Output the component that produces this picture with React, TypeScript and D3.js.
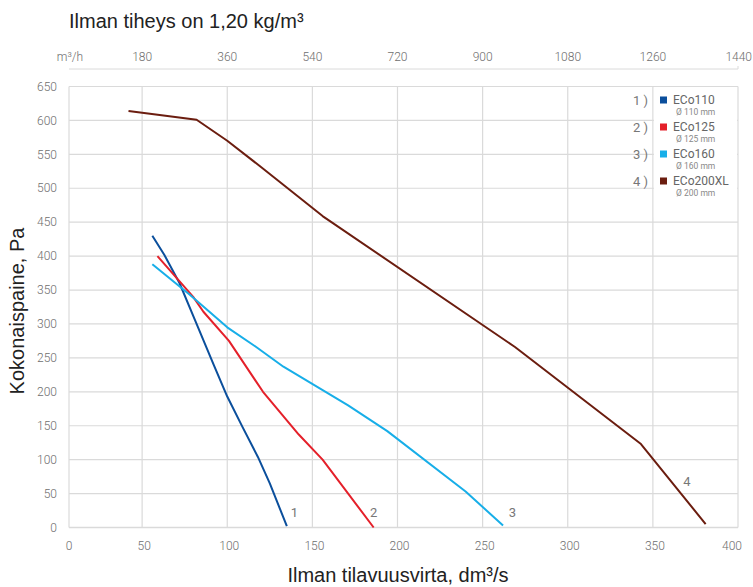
import React from "react";
import * as d3 from "d3";

const W = 753;
const H = 587;

const seriesNames = ["ECo110", "ECo125", "ECo160", "ECo200XL"];
const seriesDiameters = ["Ø 110 mm", "Ø 125 mm", "Ø 160 mm", "Ø 200 mm"];
const seriesNumbers = ["1 )", "2 )", "3 )", "4 )"];
const seriesColors = ["#0b4f9c", "#e4202a", "#17aee8", "#6b1d0f"];

const eco110Flow = [56, 63, 72, 81, 92, 100, 109, 118, 125, 135];
const eco110Pa = [430, 402, 360, 306, 240, 193, 148, 104, 65, 2];
const eco125Flow = [59, 80, 86, 101, 121, 142, 156, 186];
const eco125Pa = [400, 340, 318, 275, 200, 137, 100, 0];
const eco160Flow = [56, 78, 100, 117, 133, 171, 194, 240, 262];
const eco160Pa = [388, 343, 295, 266, 237, 180, 142, 53, 3];
const eco200Flow = [42, 82, 100, 120, 156, 269, 343, 381];
const eco200Pa = [614, 601, 570, 531, 459, 266, 123, 5];

const curveLabels = ["1", "2", "3", "4"];
const curveLabelFlow = [139.5, 186, 267.5, 370];
const curveLabelPa = [22, 22, 22, 68];

const xTicks = [0, 50, 100, 150, 200, 250, 300, 350, 400];
const yTicks = [0, 50, 100, 150, 200, 250, 300, 350, 400, 450, 500, 550, 600, 650];
const topTicks = [180, 360, 540, 720, 900, 1080, 1260, 1440];

const titleText = "Ilman tiheys on 1,20 kg/m³";
const topUnit = "m³/h";
const yTitle = "Kokonaispaine, Pa";
const xTitle = "Ilman tilavuusvirta, dm³/s";

const flows = [eco110Flow, eco125Flow, eco160Flow, eco200Flow];
const pressures = [eco110Pa, eco125Pa, eco160Pa, eco200Pa];

export default function App() {
  const plotLeft = 69;
  const x = d3.scaleLinear().domain([0, 400]).range([57, 738]);
  const xTop = d3.scaleLinear().domain([0, 1440]).range([57, 738]);
  const y = d3.scaleLinear().domain([0, 650]).range([527.5, 86.5]);
  const plotRight = x(400);
  const plotTop = y(650);
  const plotBottom = y(0);

  const line = d3
    .line<[number, number]>()
    .x((d) => x(d[0]))
    .y((d) => y(d[1]));

  const tickFont = "Roboto, 'DejaVu Sans', sans-serif";
  const titleFont = "'Liberation Sans', Arial, sans-serif";
  const tickColor = "#6e6e6e";
  const gridColor = "#dadada";

  return (
    <svg
      width={W}
      height={H}
      style={{ position: "absolute", left: 0, top: 0, background: "#fff" }}
    >
      <rect x={0} y={0} width={W} height={H} fill="#fff" />
      {/* title */}
      <text x={plotLeft} y={28} fontFamily={titleFont} fontSize={20} fill="#222">
        {titleText}
      </text>

      {/* top axis */}
      <line x1={plotLeft} x2={plotRight} y1={69} y2={69} stroke={gridColor} strokeWidth={1} />
      <line x1={plotRight} x2={plotRight} y1={66} y2={69} stroke={gridColor} strokeWidth={1} />
      <text x={plotLeft + 1} y={61} textAnchor="middle" fontFamily={tickFont} fontWeight={300} fontSize={12} fill={tickColor}>
        {topUnit}
      </text>
      {topTicks.map((t) => (
        <text
          key={t}
          x={t === 1440 ? W - 1 : xTop(t)}
          y={61}
          textAnchor={t === 1440 ? "end" : "middle"}
          fontFamily={tickFont}
          fontWeight={300}
          fontSize={12}
          fill={tickColor}
        >
          {t}
        </text>
      ))}

      {/* grid */}
      {yTicks.filter((t) => t > 0).map((t) => (
        <line key={"gy" + t} x1={plotLeft} x2={plotRight} y1={y(t)} y2={y(t)} stroke={gridColor} strokeWidth={1.2} />
      ))}
      {xTicks.filter((t) => t > 0).map((t) => (
        <line key={"gx" + t} x1={x(t)} x2={x(t)} y1={plotTop} y2={plotBottom} stroke={gridColor} strokeWidth={1.2} />
      ))}
      <line x1={plotLeft} x2={plotLeft} y1={plotTop} y2={plotBottom} stroke={gridColor} strokeWidth={1.2} />
      <line x1={plotLeft} x2={plotRight} y1={plotBottom} y2={plotBottom} stroke={gridColor} strokeWidth={1.5} />

      {/* y tick labels */}
      {yTicks.map((t) => (
        <text key={"ly" + t} x={57} y={y(t)} dy="0.35em" textAnchor="end" fontFamily={tickFont} fontWeight={300} fontSize={12} fill={tickColor}>
          {t}
        </text>
      ))}
      {/* x tick labels */}
      {xTicks.map((t) => (
        <text
          key={"lx" + t}
          x={t === 0 ? plotLeft : t === 400 ? x(t) - 6 : x(t) + 2}
          y={546}
          dy="0.35em"
          textAnchor="middle"
          fontFamily={tickFont}
          fontWeight={300}
          fontSize={12}
          fill={tickColor}
        >
          {t}
        </text>
      ))}

      {/* legend box */}
      <rect x={x(350) + 1} y={plotTop + 1} width={plotRight - x(350) - 2} height={130} fill="#fff" />

      {/* data lines */}
      {flows.map((f, i) => (
        <path
          key={"s" + i}
          d={line(f.map((v, j) => [v, pressures[i][j]] as [number, number])) || ""}
          fill="none"
          stroke={seriesColors[i]}
          strokeWidth={2}
          strokeLinejoin="round"
        />
      ))}

      {/* curve labels */}
      {curveLabels.map((l, i) => (
        <text key={"cl" + i} x={x(curveLabelFlow[i])} y={y(curveLabelPa[i])} dy="0.35em" textAnchor="middle" fontFamily={tickFont} fontSize={13} fill="#777">
          {l}
        </text>
      ))}

      {/* legend */}
      {seriesNames.map((n, i) => {
        const cy = 100 + i * 27;
        return (
          <g key={"lg" + i}>
            <text x={648} y={cy} dy="0.35em" textAnchor="end" fontFamily={tickFont} fontSize={13} fill="#777">
              {seriesNumbers[i]}
            </text>
            <rect x={660} y={cy - 3.5} width={7} height={7} fill={seriesColors[i]} />
            <text x={673} y={cy + 4} fontFamily={tickFont} fontSize={12} fill="#666">
              {n}
            </text>
            <text x={676} y={cy + 15} fontFamily={tickFont} fontSize={8.5} fill="#888">
              {seriesDiameters[i]}
            </text>
          </g>
        );
      })}

      {/* axis titles */}
      <text
        transform={`translate(24, ${311}) rotate(-90)`}
        textAnchor="middle"
        fontFamily={titleFont}
        fontSize={20}
        fill="#222"
      >
        {yTitle}
      </text>
      <text x={398} y={582} textAnchor="middle" fontFamily={titleFont} fontSize={20} fill="#222">
        {xTitle}
      </text>
    </svg>
  );
}
